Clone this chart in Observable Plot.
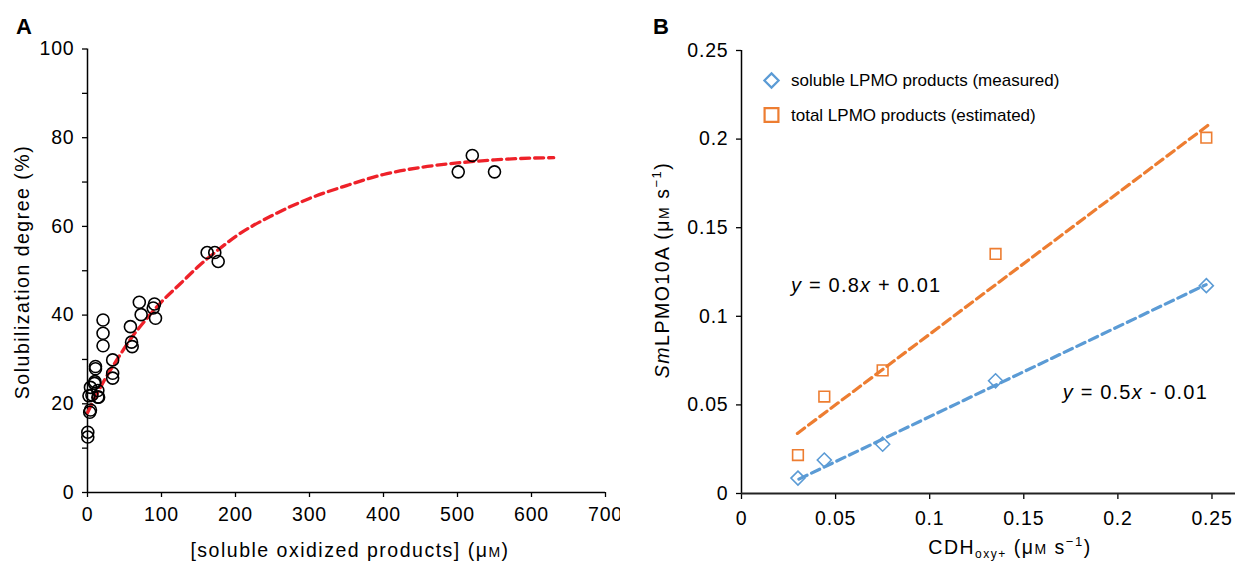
<!DOCTYPE html>
<html><head><meta charset="utf-8">
<script src="https://cdn.jsdelivr.net/npm/d3@7"></script>
<script src="https://cdn.jsdelivr.net/npm/@observablehq/plot@0.6"></script>
<style>
body{margin:0;background:#fff;font-family:Arial,"Liberation Sans",sans-serif;}
#wrap{position:relative;width:1237px;height:564px;overflow:hidden;}
#a{position:absolute;left:0;top:0}
#b{position:absolute;left:620px;top:0}
svg{overflow:visible}
</style></head><body><div id="wrap"><div id="a"></div><div id="b"></div></div>
<script>
// ---------- Panel A data ----------
const aX = [0.4,0.4,3,4,2,6,4,9.5,10,10.8,10.8,14,14,15,21,21,21,34,34,34,58,59.5,60.4,70,72.5,88.8,90.5,91.9,161.7,172,176.6,501,520,550];
const aY = [13.6,12.5,18.1,18.6,21.8,22,23.7,24.6,25,27.9,28.4,23,21.5,21.5,38.9,35.9,33.1,29.9,26.9,25.8,37.4,33.9,32.9,42.9,40.1,41.6,42.5,39.3,54.1,54.1,52.1,72.3,76,72.3];
const curveX = [0,20,40,60,80,100,125,150,175,200,250,300,350,400,450,500,550,600,630];
const curveY = [18,24.5,30,35,39.2,43,47,51,54.5,57.7,62.5,66.3,69.2,71.7,73.3,74.3,75,75.4,75.5];
const aXTicks = [0,100,200,300,400,500,600,700];
const aYTicks = [0,20,40,60,80,100];
const aYMinor = [10,30,50,70,90];

// ---------- Panel B data ----------
const bX = [0.030,0.044,0.075,0.135,0.247];
const bSoluble = [0.0087,0.0189,0.0278,0.0636,0.1173];
const bTotal = [0.0217,0.0547,0.0695,0.1352,0.2008];
const fitTotalX = [0.0297,0.2488], fitTotalY = [0.0339,0.2085];
const fitSolX = [0.0305,0.2469], fitSolY = [0.0081,0.1179];
const bXTicks = [0,0.05,0.1,0.15,0.2,0.25];
const bYTicks = [0,0.05,0.1,0.15,0.2,0.25];
const seriesNames = ["soluble LPMO products (measured)","total LPMO products (estimated)"];
const eqTotal = "0.8", eqTotalB = "+ 0.01", eqSol = "0.5", eqSolB = "- 0.01";

const FONT = "Arial, 'Liberation Sans', sans-serif";
const BLUE = "#5b9bd5", ORANGE = "#ed7d31", RED = "#ee2129";
const TICKFS = 19.5;

const ptsA = aX.map((x,i)=>({x, y:aY[i]}));
const curve = curveX.map((x,i)=>({x, y:curveY[i]}));

const plotA = Plot.plot({
  width: 620, height: 564,
  marginLeft: 87, marginRight: 15, marginTop: 48.5, marginBottom: 72,
  x: {domain:[0,700]}, y: {domain:[0,100]},
  style: {fontFamily: FONT, fontSize: TICKFS + "px", color: "#000", background: "#fff", letterSpacing: "0.8px"},
  marks: [
    Plot.axisY(aYMinor, {tickSize: 5, tickFormat: () => "", label: null, strokeWidth: 1.3}),
    Plot.axisY(aYTicks, {tickSize: 5, tickPadding: 8, label: null, fontSize: TICKFS, strokeWidth: 1.3}),
    Plot.axisX(aXTicks, {tickSize: 5, tickPadding: 10, label: null, fontSize: TICKFS, strokeWidth: 1.3}),
    Plot.ruleX([0], {stroke: "#000", strokeWidth: 1.5}),
    Plot.ruleY([0], {stroke: "#000", strokeWidth: 1.5}),
    Plot.line(curve, {x: "x", y: "y", stroke: RED, strokeWidth: 3.3, strokeDasharray: "9,5", curve: "monotone-x"}),
    Plot.dot(ptsA, {x: "x", y: "y", r: 6, stroke: "#000", strokeWidth: 1.6, fill: "none"})
  ]
});
document.getElementById("a").appendChild(plotA);

const solPts = bX.map((x,i)=>({x, y:bSoluble[i]}));
const totPts = bX.map((x,i)=>({x, y:bTotal[i]}));
const fitTot = fitTotalX.map((x,i)=>({x, y:fitTotalY[i]}));
const fitSol = fitSolX.map((x,i)=>({x, y:fitSolY[i]}));

const plotB = Plot.plot({
  width: 617, height: 564,
  marginLeft: 121, marginRight: 2, marginTop: 50, marginBottom: 71,
  x: {domain:[0,0.2625]}, y: {domain:[0,0.25]},
  style: {fontFamily: FONT, fontSize: TICKFS + "px", color: "#000", background: "#fff", letterSpacing: "0.8px"},
  marks: [
    Plot.axisY(bYTicks, {tickSize: 5, tickPadding: 8, label: null, fontSize: TICKFS, tickFormat: d => String(d), strokeWidth: 1.3}),
    Plot.axisX(bXTicks, {tickSize: 6, tickPadding: 12, label: null, fontSize: TICKFS, tickFormat: d => String(d), strokeWidth: 1.3}),
    Plot.ruleX([0], {stroke: "#000", strokeWidth: 1.5}),
    Plot.ruleY([0], {stroke: "#222", strokeWidth: 1.8}),
    Plot.line(fitTot, {x: "x", y: "y", stroke: ORANGE, strokeWidth: 3.2, strokeDasharray: "9,5"}),
    Plot.line(fitSol, {x: "x", y: "y", stroke: BLUE, strokeWidth: 3.2, strokeDasharray: "9,5"}),
    Plot.dot(totPts, {x: "x", y: "y", symbol: "square2", r: 6.8, stroke: ORANGE, strokeWidth: 1.6, fill: "none"}),
    Plot.dot(solPts, {x: "x", y: "y", symbol: "diamond2", r: 6.3, stroke: BLUE, strokeWidth: 1.6, fill: "none"})
  ]
});
document.getElementById("b").appendChild(plotB);

// ---------- text overlays ----------
function addText(svg, x, y, opts) {
  const t = d3.select(svg).append("text")
    .attr("x", x).attr("y", y)
    .attr("font-family", FONT).attr("fill", "#000")
    .attr("font-size", opts.size || 19.5)
    .attr("letter-spacing", (opts.ls ?? 0) + "px")
    .style("letter-spacing", (opts.ls ?? 0) + "px")
    .attr("text-anchor", opts.anchor || "middle");
  if (opts.rotate) t.attr("transform", `rotate(-90,${x},${y})`);
  if (opts.weight) t.attr("font-weight", opts.weight);
  for (const p of opts.parts) {
    const s = t.append("tspan").text(p.t);
    if (p.italic) s.attr("font-style", "italic");
    if (p.size) s.attr("font-size", p.size);
    if (p.dy) s.attr("dy", p.dy);
  }
  return t;
}
const sA = plotA, sB = plotB;
const TFS = 19.5, TLS = 1.5;
addText(sA, 16, 34, {anchor: "start", size: 22, weight: "bold", parts: [{t: "A"}]});
addText(sA, 29, 272, {rotate: true, size: TFS, ls: TLS, parts: [{t: "Solubilization degree (%)"}]});
addText(sA, 350, 557, {size: TFS, ls: TLS, parts: [{t: "[soluble oxidized products] (μ"}, {t: "M", size: 14}, {t: ")"}]});

addText(sB, 33, 34, {anchor: "start", size: 22, weight: "bold", parts: [{t: "B"}]});
addText(sB, 49, 270, {rotate: true, size: TFS, ls: TLS, parts: [
  {t: "Sm", italic: true}, {t: "LPMO10A (μ"}, {t: "M", size: 14}, {t: " s"},
  {t: "−1", size: 13, dy: -8}, {t: ")", dy: 8}]});
addText(sB, 390, 554, {size: TFS, ls: TLS, parts: [
  {t: "CDH"}, {t: "oxy+", size: 12, dy: 4}, {t: " (μ", dy: -4}, {t: "M", size: 14}, {t: " s"},
  {t: "−1", size: 13, dy: -8}, {t: ")", dy: 8}]});

// legend
const gB = d3.select(sB);
gB.append("path").attr("transform", "translate(151.5,80.5)")
  .attr("d", d3.symbol(d3.symbolDiamond2, Math.PI * 6.4 * 6.4)())
  .attr("fill", "none").attr("stroke", BLUE).attr("stroke-width", 2.2);
gB.append("path").attr("transform", "translate(151.5,115)")
  .attr("d", d3.symbol(d3.symbolSquare2, Math.PI * 8.8 * 8.8)())
  .attr("fill", "none").attr("stroke", ORANGE).attr("stroke-width", 2.2);
addText(sB, 171, 86, {anchor: "start", size: 17, parts: [{t: seriesNames[0]}]});
addText(sB, 171, 121, {anchor: "start", size: 17, parts: [{t: seriesNames[1]}]});

// equations
addText(sB, 171, 292, {anchor: "start", size: 20, ls: 1.2, parts: [
  {t: "y", italic: true}, {t: " = " + eqTotal}, {t: "x", italic: true}, {t: " " + eqTotalB}]});
addText(sB, 588, 399, {anchor: "end", size: 20, ls: 1.2, parts: [
  {t: "y", italic: true}, {t: " = " + eqSol}, {t: "x", italic: true}, {t: " " + eqSolB}]});
</script></body></html>
